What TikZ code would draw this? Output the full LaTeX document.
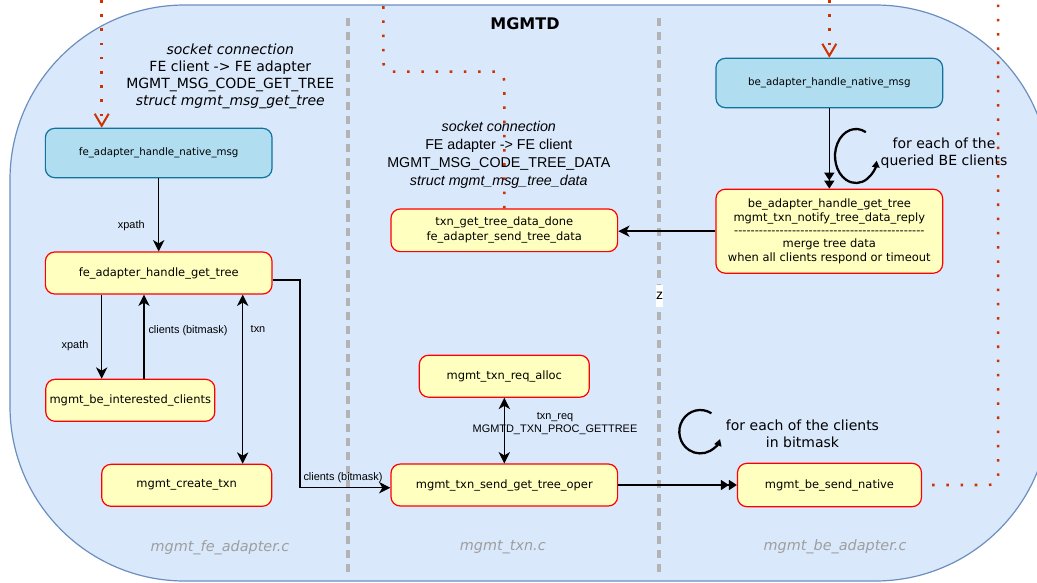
\documentclass[tikz,border=0pt]{standalone}
\usepackage{fontspec}
\setmainfont{DejaVu Sans}
\newfontfamily\arialf{Liberation Sans}
\newfontfamily\dejanolig{DejaVu Sans}[Ligatures=TeXOff]
\usetikzlibrary{arrows.meta,calc}
\definecolor{contfill}{HTML}{DAE8FC}
\definecolor{contdraw}{HTML}{6C8EBF}
\definecolor{yfill}{HTML}{FFFFC0}
\definecolor{ydraw}{HTML}{FF0000}
\definecolor{bfill}{HTML}{B1DDF0}
\definecolor{bdraw}{HTML}{10739E}
\definecolor{dotred}{HTML}{CC3300}
\definecolor{sepgray}{HTML}{B3B3B3}
\definecolor{filegray}{HTML}{9E9E9E}
\begin{document}
\begin{tikzpicture}[x=0.75pt,y=-0.75pt,
  ybox/.style={draw=ydraw, fill=yfill, line width=0.9pt, rounded corners=7pt, inner sep=0pt, align=center, font=\fontsize{8.6}{10}\selectfont},
  bbox/.style={draw=bdraw, fill=bfill, line width=0.9pt, rounded corners=7pt, inner sep=0pt, align=center, font=\fontsize{7.7}{9}\selectfont},
  flowedge/.style={line width=1.1pt, -{Stealth[length=8.5pt,width=8.5pt,inset=2.5pt]}},
  bothedge/.style={line width=1.1pt, {Stealth[length=8.5pt,width=8.5pt,inset=2.5pt]}-{Stealth[length=8.5pt,width=8.5pt,inset=2.5pt]}},
  dbledge/.style={line width=1.1pt, -{Triangle[length=6pt,width=7.5pt]Triangle[length=6pt,width=7.5pt]}},
  elabel/.style={font=\arialf\fontsize{8.2}{10}\selectfont, inner sep=0pt, align=center},
  reddot/.style={draw=dotred, line width=1.9pt, dash pattern=on 1.9pt off 8.75pt},
  vtip/.style={-{Straight Barb[length=9pt,width=10.5pt,line width=1.5pt]}},
  bigtext/.style={font=\fontsize{10.5}{12.75}\selectfont, align=center, inner sep=0pt},
  filelabel/.style={font=\itshape\fontsize{10.8}{13}\selectfont, text=filegray, inner sep=0pt},
  loopline/.style={line width=1.7pt, -{Triangle[length=5pt,width=5.5pt]}}
]
\useasboundingbox (0,0) rectangle (1037,582);
% container
\draw[contdraw, fill=contfill, line width=0.9pt, rounded corners=131pt] (10,5) rectangle (1050,581);
% separators
\draw[sepgray, line width=2.5pt, dash pattern=on 6pt off 4.5pt] (348,18) -- (348,572);
\draw[sepgray, line width=2.5pt, dash pattern=on 6pt off 4.5pt] (659,18) -- (659,572);
\node[font=\bfseries\fontsize{12}{14}\selectfont, inner sep=0pt] (title) at (525,24) {MGMTD};

% nodes
\node[bbox, minimum width=170pt, minimum height=37pt] (n1) at (158.7,153) {fe\_adapter\_handle\_native\_msg};
\node[ybox, minimum width=170pt, minimum height=31.5pt] (n2) at (158.7,273) {fe\_adapter\_handle\_get\_tree};
\node[ybox, minimum width=126.75pt, minimum height=31.5pt] (n3) at (130.3,400.3) {mgmt\_be\_interested\_clients};
\node[ybox, minimum width=127.5pt, minimum height=31.5pt] (n4) at (186.7,485.3) {mgmt\_create\_txn};
\node[ybox, minimum width=170pt, minimum height=32pt, font=\fontsize{8.6}{11.25}\selectfont] (n5) at (504.3,230.3) {txn\_get\_tree\_data\_done\\fe\_adapter\_send\_tree\_data};
\node[ybox, minimum width=127.5pt, minimum height=31.5pt] (n6) at (504.3,376.2) {mgmt\_txn\_req\_alloc};
\node[ybox, minimum width=170pt, minimum height=31.5pt] (n7) at (504.3,485) {mgmt\_txn\_send\_get\_tree\_oper};
\node[bbox, minimum width=170pt, minimum height=37pt] (n8) at (829.3,83) {be\_adapter\_handle\_native\_msg};
\node[ybox, minimum width=170pt, minimum height=63pt] (n9) at (829.3,231.2) {be\_adapter\_handle\_get\_tree\\mgmt\_txn\_notify\_tree\_data\_reply\\{\dejanolig ----------------------------------------------}\\merge tree data\\when all clients respond or timeout};
\node[ybox, minimum width=138pt, minimum height=32.5pt] (n10) at (829.5,485) {mgmt\_be\_send\_native};

% helper coordinates
\coordinate (x101) at (101.7,0);
\coordinate (x144) at (144,0);
\coordinate (x243) at (242.7,0);
\coordinate (c280) at (0,280);
\coordinate (c300) at (300,0);
\coordinate (c488) at (0,487.7);

% edges
\draw[flowedge] (n1) -- (n2);
\node[elabel] (l1) at (131.3,226) {xpath};
\draw[flowedge] (n2.south -| x101) -- (n3.north -| x101);
\node[elabel] (l2) at (75,346) {xpath};
\draw[flowedge] (n3.north -| x144) -- (n2.south -| x144);
\node[elabel] (l3) at (188,331) {clients (bitmask)};
\draw[bothedge] (n2.south -| x243) -- (n4.north -| x243);
\node[elabel] (l4) at (258,329) {txn};
\draw[flowedge] (n2.east |- c280) -| (c300 |- c488) -- (n7.west |- c488);
\node[elabel] (l5) at (343,478) {clients (bitmask)};
\draw[bothedge] (n6) -- (n7);
\node[elabel, font=\arialf\fontsize{8.2}{10.2}\selectfont] (l6) at (555,423.5) {txn\_req\\MGMTD\_TXN\_PROC\_GETTREE};
\draw[dbledge] (n7.east) -- (n10.west);
\draw[dbledge] (n8) -- (n9);
\draw[flowedge] (n9.west) -- (n9.west -| n5.east);

\node[fill=white, font=\arialf\fontsize{10.5}{12}\selectfont, inner xsep=0.3pt, inner ysep=0pt, minimum height=17pt] (z) at (659.5,296) {z};

% dotted socket paths
\coordinate (t1) at (101.7,0);
\draw[reddot, vtip] (t1) -- (t1 |- n1.north);
\coordinate (t2) at (383.3,0);
\coordinate (t2c) at (383.3,71.7);
\draw[reddot, rounded corners=7pt] (n5.north) |- (t2c) -- (t2);
\coordinate (t3) at (829.3,0);
\draw[reddot, vtip] (t3) -- (n8.north);
\coordinate (t4) at (998,0);
\draw[reddot, rounded corners=7pt, dash phase=3.15pt] (n10.east) -| (t4);

% socket texts
\node[bigtext] (s1) at (230.3,76.7) {\textit{socket connection}\\FE client -> FE adapter\\MGMT\_MSG\_CODE\_GET\_TREE\\\textit{struct mgmt\_msg\_get\_tree}};
\node[bigtext, font=\arialf\fontsize{10.7}{13.5}\selectfont] (s2) at (498.8,155) {\textit{socket connection}\\FE adapter -> FE client\\MGMT\_MSG\_CODE\_TREE\_DATA\\\textit{struct mgmt\_msg\_tree\_data}};

% loops
\coordinate (loop1) at (856,156);
\draw[loopline] ([shift={(-62:21 and 27)}]loop1) arc[start angle=-62, end angle=-350, x radius=21, y radius=27];
\node[bigtext] (q1) at (944,153.5) {for each of the\\queried BE clients};
\coordinate (loop2) at (700.3,431.7);
\draw[loopline] ([shift={(-58:21 and 21.7)}]loop2) arc[start angle=-58, end angle=-340, x radius=21, y radius=21.7];
\node[bigtext] (q2) at (802.5,434) {for each of the clients\\in bitmask};

% file labels
\node[filelabel] (f1) at (220,547.3) {mgmt\_fe\_adapter.c};
\node[filelabel] (f2) at (502.8,547.3) {mgmt\_txn.c};
\node[filelabel] (f3) at (835,546.7) {mgmt\_be\_adapter.c};
\end{tikzpicture}
\end{document}
